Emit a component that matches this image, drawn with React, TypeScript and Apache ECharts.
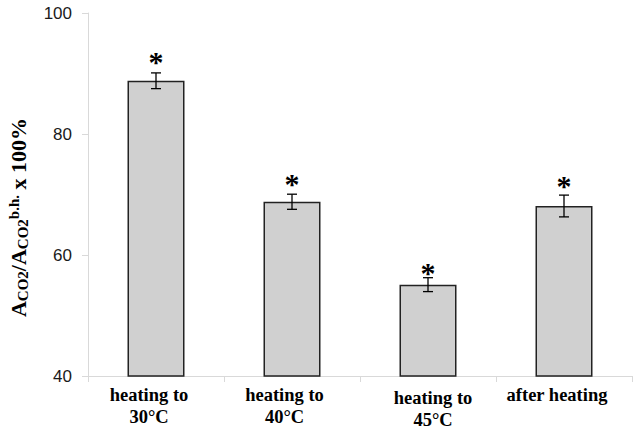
import React, { useEffect, useRef } from "react";
import * as echarts from "echarts";

const categories = ["heating to\n30°C", "heating to\n40°C", "heating to\n45°C", "after heating"];
const means = [88.8, 68.8, 55.1, 68.1];
const errors = [1.3, 1.25, 1.15, 1.8];
const starLevels = [92.6, 72.4, 57.7, 72.1];
const yTicks = { min: 40, max: 100, interval: 20 };

const labelPaddings = [
  [0, 14, 0, 0],
  [0, 15, 0, 0],
  [3, 0, 0, 10],
  [0, 14, 0, 0],
];

export default function App() {
  const ref = useRef<HTMLDivElement>(null);
  useEffect(() => {
    if (!ref.current) return;
    const chart = echarts.init(ref.current, null, { renderer: "svg" });
    const serif = "'Liberation Serif', 'Times New Roman', serif";
    const option: any = {
      animation: false,
      grid: { left: 88, right: 6, top: 13, bottom: 56, containLabel: false, outerBoundsMode: "none" },
      xAxis: {
        type: "category",
        data: categories.map((c, i) => ({ value: c, textStyle: { padding: labelPaddings[i] } })),
        axisLine: { lineStyle: { color: "#d9d9d9", width: 1 } },
        axisTick: { show: true, length: 6, lineStyle: { color: "#d9d9d9" } },
        axisLabel: {
          interval: 0,
          margin: 8,
          fontFamily: serif,
          fontWeight: "bold",
          fontSize: 18.5,
          lineHeight: 22,
          color: "#000",
        },
      },
      yAxis: {
        type: "value",
        min: yTicks.min,
        max: yTicks.max,
        interval: yTicks.interval,
        axisLine: { show: true, lineStyle: { color: "#d9d9d9", width: 1 } },
        axisTick: { show: true, length: 6, lineStyle: { color: "#d9d9d9" } },
        splitLine: { show: false },
        axisLabel: {
          margin: 16,
          fontFamily: "'Liberation Sans', Arial, sans-serif",
          fontSize: 17,
          color: "#1a1a1a",
        },
        name: "{m|A}{s|CO2}{m|/A}{s|CO2}{p|b.h.}{m| x 100%}",
        nameLocation: "middle",
        nameRotate: 90,
        nameGap: 58,
        nameTextStyle: {
          padding: [0, 46, 0, 0],
          rich: {
            m: { fontFamily: serif, fontWeight: "bold", fontSize: 22, lineHeight: 24, color: "#000", verticalAlign: "middle" },
            s: { fontFamily: serif, fontWeight: "bold", fontSize: 15, lineHeight: 15, color: "#000", verticalAlign: "bottom" },
            p: { fontFamily: serif, fontWeight: "bold", fontSize: 15, lineHeight: 15, color: "#000", verticalAlign: "top" },
          },
        },
      },
      series: [
        {
          type: "bar",
          data: means,
          barWidth: 57,
          itemStyle: { color: "#d0d0d0", borderColor: "#222", borderWidth: 1.5 },
        },
        {
          type: "custom",
          data: means.map((m, i) => [i, m, errors[i], starLevels[i]]),
          z: 10,
          renderItem: (params: any, api: any) => {
            const i = api.value(0);
            const m = api.value(1);
            const e = api.value(2);
            const s = api.value(3);
            const top = api.coord([i, m + e]);
            const bot = api.coord([i, m - e]);
            const st = api.coord([i, s]);
            const x = top[0];
            const hw = 5;
            const ls = { stroke: "#000", lineWidth: 1.3 };
            return {
              type: "group",
              children: [
                { type: "line", shape: { x1: x, y1: top[1], x2: x, y2: bot[1] }, style: ls },
                { type: "line", shape: { x1: x - hw, y1: top[1], x2: x + hw, y2: top[1] }, style: ls },
                { type: "line", shape: { x1: x - hw, y1: bot[1], x2: x + hw, y2: bot[1] }, style: ls },
                {
                  type: "text",
                  x: x,
                  y: st[1] + 4,
                  style: {
                    text: "*",
                    fontSize: 30,
                    fontWeight: "bold",
                    fontFamily: serif,
                    fill: "#000",
                    align: "center",
                    verticalAlign: "middle",
                  },
                },
              ],
            };
          },
        },
      ],
    };
    chart.setOption(option);
    return () => chart.dispose();
  }, []);
  return (
    <div
      ref={ref}
      style={{ position: "absolute", left: 0, top: 0, width: 638, height: 432, background: "#fff" }}
    />
  );
}
